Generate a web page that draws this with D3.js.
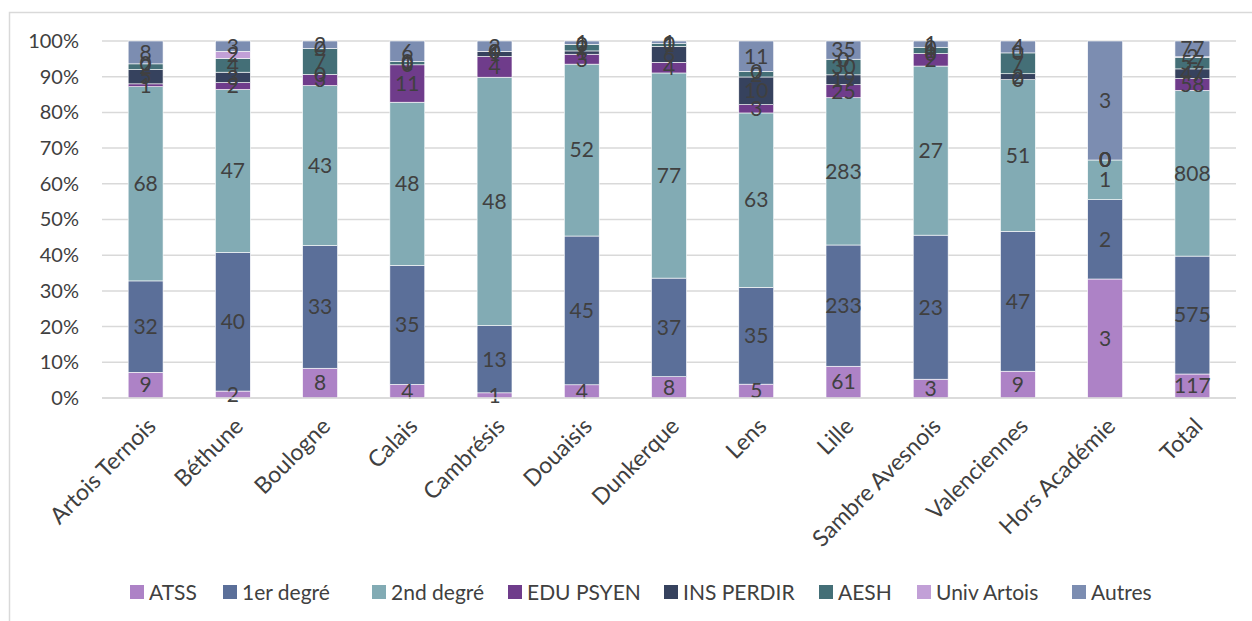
<!DOCTYPE html>
<html>
<head>
<meta charset="utf-8">
<script src="https://cdn.jsdelivr.net/npm/d3@7"></script>
<style>
  html, body { margin: 0; padding: 0; background: #fff; }
  svg { display: block; font-family: "Lato", "Open Sans", sans-serif; }
</style>
</head>
<body>
<svg id="chart" width="1252" height="621"></svg>
<script>
// Districts (one stacked bar each)
const categories = ["Artois Ternois", "Béthune", "Boulogne", "Calais", "Cambrésis", "Douaisis",
  "Dunkerque", "Lens", "Lille", "Sambre Avesnois", "Valenciennes", "Hors Académie", "Total"];

// Headcount per staff group, in the same order as categories
const atss      = [9, 2, 8, 4, 1, 4, 8, 5, 61, 3, 9, 3, 117];
const premier   = [32, 40, 33, 35, 13, 45, 37, 35, 233, 23, 47, 2, 575];
const second    = [68, 47, 43, 48, 48, 52, 77, 63, 283, 27, 51, 1, 808];
const eduPsyen  = [1, 2, 3, 11, 4, 3, 4, 3, 25, 2, 0, 0, 58];
const insPerdir = [5, 3, 0, 0, 1, 1, 6, 10, 19, 0, 2, 0, 47];
const aesh      = [2, 4, 7, 1, 0, 2, 1, 2, 30, 1, 7, 0, 57];
const univArtois= [0, 2, 0, 0, 0, 0, 0, 0, 0, 0, 0, 0, 2];
const autres    = [8, 3, 2, 6, 2, 1, 1, 11, 35, 1, 4, 3, 77];

const seriesNames = ["ATSS", "1er degré", "2nd degré", "EDU PSYEN", "INS PERDIR", "AESH", "Univ Artois", "Autres"];
const seriesValues = [atss, premier, second, eduPsyen, insPerdir, aesh, univArtois, autres];
const seriesColors = ["#ad82c6", "#5b6f99", "#82abb4", "#6f3c8b", "#36425e", "#446f77", "#c2a0d7", "#7c8db1"];

const yTicks = [0, 0.1, 0.2, 0.3, 0.4, 0.5, 0.6, 0.7, 0.8, 0.9, 1];

const svg = d3.select("#chart");
const textColor = "#404040";

// Outer frame of the chart area
svg.append("rect")
  .attr("x", 9.5).attr("y", 12.5)
  .attr("width", 1300).attr("height", 700)
  .attr("fill", "none").attr("stroke", "#d9d9d9").attr("stroke-width", 1.5);

const plot = { left: 102, right: 1236, top: 41, bottom: 398 };

const x = d3.scaleBand().domain(categories).range([plot.left, plot.right]).paddingInner(0.6).paddingOuter(0.3);
const y = d3.scaleLinear().domain([0, 1]).range([plot.bottom, plot.top]);

// Build rows for d3.stack, normalised to 100% per category
const keys = seriesNames;
const rows = categories.map((c, i) => {
  const row = { category: c };
  keys.forEach((k, j) => { row[k] = seriesValues[j][i]; });
  return row;
});
const stacked = d3.stack().keys(keys).offset(d3.stackOffsetExpand)(rows);

// Gridlines
svg.append("g").selectAll("line").data(yTicks).join("line")
  .attr("x1", plot.left).attr("x2", plot.right)
  .attr("y1", d => y(d)).attr("y2", d => y(d))
  .attr("stroke", "#d9d9d9").attr("stroke-width", 1.5);

// Y axis labels
const yAxis = d3.axisLeft(y).tickValues(yTicks).tickFormat(d3.format(".0%")).tickSize(0).tickPadding(0);
const yg = svg.append("g").attr("transform", `translate(79,0)`).call(yAxis);
yg.select(".domain").remove();
yg.selectAll("text").attr("font-size", 20).attr("fill", textColor).attr("font-family", "Lato, sans-serif");

// Bars
const layers = svg.append("g").selectAll("g").data(stacked).join("g")
  .attr("fill", (d, i) => seriesColors[i]);
layers.selectAll("rect").data(d => d).join("rect")
  .attr("x", d => x(d.data.category))
  .attr("width", x.bandwidth())
  .attr("y", d => y(d[1]))
  .attr("height", d => y(d[0]) - y(d[1]))
  .attr("stroke", "#ffffff").attr("stroke-width", 0.6);

// Data labels (centred in each segment, including zero values)
const labelG = svg.append("g");
stacked.forEach((layer, si) => {
  labelG.selectAll(null).data(layer).join("text")
    .attr("x", d => x(d.data.category) + x.bandwidth() / 2)
    .attr("y", d => (y(d[0]) + y(d[1])) / 2)
    .attr("dy", "0.35em")
    .attr("text-anchor", "middle")
    .attr("font-size", 21)
    .attr("fill", textColor)
    .text(d => d.data[layer.key]);
});

// Baseline
svg.append("line")
  .attr("x1", plot.left).attr("x2", plot.right)
  .attr("y1", y(0)).attr("y2", y(0))
  .attr("stroke", "#d9d9d9").attr("stroke-width", 1.5);

// Category labels, rotated
svg.append("g").selectAll("text").data(categories).join("text")
  .attr("transform", d => `translate(${x(d) + x.bandwidth() / 2 + 6},${plot.bottom + 24}) rotate(-45)`)
  .attr("text-anchor", "end")
  .attr("dy", "0.35em")
  .attr("font-size", 23)
  .attr("fill", textColor)
  .text(d => d);

// Legend
const legendX = [130, 223, 372, 508, 664, 819, 917, 1072];
const legend = svg.append("g").selectAll("g").data(seriesNames).join("g")
  .attr("transform", (d, i) => `translate(${legendX[i]},585)`);
legend.append("rect").attr("width", 14).attr("height", 14)
  .attr("fill", (d, i) => seriesColors[i]);
legend.append("text").attr("x", 19).attr("y", 7).attr("dy", "0.36em")
  .attr("font-size", 21).attr("fill", textColor).text(d => d);
</script>
</body>
</html>
